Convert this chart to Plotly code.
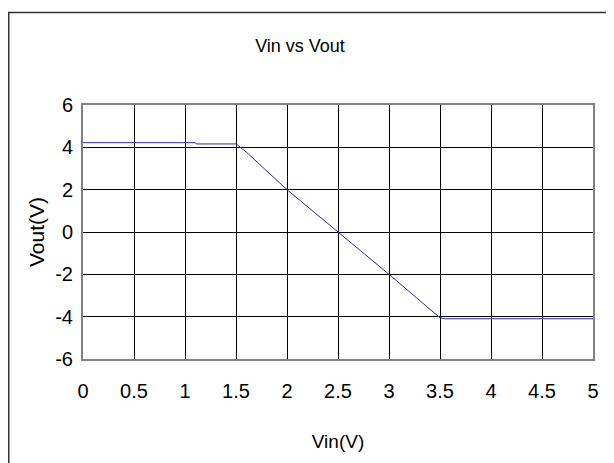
import plotly.graph_objects as go

# Data
vin = [0.0, 1.10, 1.11, 1.50, 1.60, 2.00, 2.50, 3.00, 3.45, 3.50, 3.55, 5.00]
vout = [4.22, 4.22, 4.16, 4.16, 3.78, 2.00, 0.00, -2.00, -3.85, -4.05, -4.10, -4.10]

x_ticks = [0, 0.5, 1, 1.5, 2, 2.5, 3, 3.5, 4, 4.5, 5]
x_labels = ["0", "0.5", "1", "1.5", "2", "2.5", "3", "3.5", "4", "4.5", "5"]
y_ticks = [-6, -4, -2, 0, 2, 4, 6]
y_labels = ["-6", "-4", "-2", "0", "2", "4", "6"]

FONT = "Liberation Sans, Arial, sans-serif"

W, H = 606, 455
L, R, T, B = 75, 21, 97, 104
PW, PH = W - L - R, H - T - B

fig = go.Figure()
fig.add_trace(go.Scatter(x=vin, y=vout, mode="lines",
                         line=dict(color="#2a2aa0", width=1), showlegend=False))

fig.update_layout(
    width=W, height=H,
    margin=dict(l=L, r=R, t=T, b=B),
    paper_bgcolor="white", plot_bgcolor="white",
    font=dict(family=FONT, color="black"),
    title=dict(text="Vin vs Vout", x=292 / W, xref="container", y=1 - 38 / H,
               yref="container", xanchor="center", yanchor="middle",
               font=dict(size=18, family=FONT, color="black")),
    xaxis=dict(range=[0, 5], tickvals=x_ticks, ticktext=x_labels,
               showgrid=True, gridcolor="black", gridwidth=1,
               showline=True, linecolor="#808080", linewidth=2, mirror=True,
               zeroline=False, ticks="", tickfont=dict(size=20),
               ticklabelstandoff=13,
               title=dict(text="Vin(V)", font=dict(size=19, family=FONT),
                          standoff=34)),
    yaxis=dict(range=[-6, 6], tickvals=y_ticks, ticktext=y_labels,
               showgrid=True, gridcolor="black", gridwidth=1,
               showline=True, linecolor="#808080", linewidth=2, mirror=True,
               zeroline=False, ticks="", tickfont=dict(size=20),
               ticklabelstandoff=4,
               title=dict(text="Vout(V)", font=dict(size=21, family=FONT),
                          standoff=5)),
    shapes=[dict(type="rect", xref="paper", yref="paper",
                 x0=(0.75 - L) / PW, x1=(W + 30 - L) / PW,
                 y0=(T + PH - (H + 30)) / PH, y1=(T + PH - 4.5) / PH,
                 line=dict(color="#333333", width=1.5), layer="below")],
)

fig.write_html("out.html")
